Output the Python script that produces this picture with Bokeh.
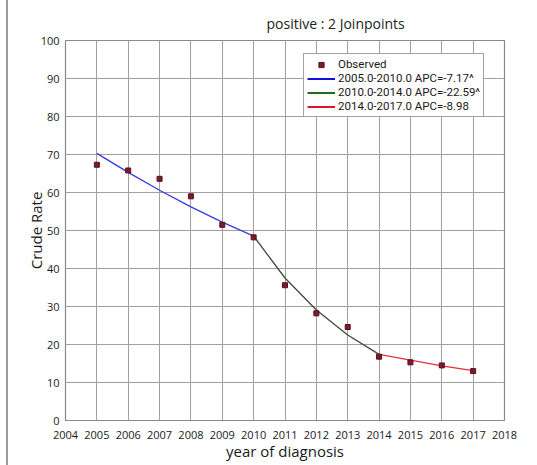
from bokeh.plotting import figure
from bokeh.models import Legend, LegendItem, Title, FixedTicker, Range1d
from bokeh.embed import file_html
from bokeh.resources import INLINE

years = [2005, 2006, 2007, 2008, 2009, 2010, 2011, 2012, 2013, 2014, 2015, 2016, 2017]
observed = [67.3, 65.8, 63.6, 59.0, 51.5, 48.2, 35.6, 28.2, 24.6, 16.8, 15.3, 14.5, 13.0]

seg1_years = [2005, 2006, 2007, 2008, 2009, 2010]
seg1_fit = [70.3, 65.3, 60.6, 56.2, 52.2, 48.5]
seg2_years = [2010, 2011, 2012, 2013, 2014]
seg2_fit = [48.5, 37.5, 29.1, 22.5, 17.4]
seg3_years = [2014, 2015, 2016, 2017]
seg3_fit = [17.4, 15.9, 14.4, 13.1]

labels = ["Observed",
          "2005.0-2010.0 APC=-7.17^",
          "2010.0-2014.0 APC=-22.59^",
          "2014.0-2017.0 APC=-8.98"]
x_ticks = list(range(2004, 2019))
y_ticks = list(range(0, 101, 10))

FONT = "Open Sans"

p = figure(width=529, height=465, output_backend="svg", toolbar_location=None,
           x_range=Range1d(2004, 2018), y_range=Range1d(0, 100),
           min_border_left=57, min_border_right=33, min_border_top=40, min_border_bottom=45)
p.styles = {"border-left": "2px solid #9a9a9a", "margin-left": "6px"}

p.add_layout(Title(text="positive : 2 Joinpoints", align="left", offset=201, standoff=15,
                   text_font=FONT, text_font_size="14px", text_font_style="normal",
                   text_color="#222222"), "above")

p.outline_line_color = "#888888"
p.outline_line_width = 1.2
p.xgrid.grid_line_color = "#a0a0a0"
p.ygrid.grid_line_color = "#a0a0a0"
p.xgrid.grid_line_width = 1
p.ygrid.grid_line_width = 1

for ax in (p.xaxis, p.yaxis):
    ax.axis_line_color = None
    ax.major_tick_line_color = None
    ax.minor_tick_line_color = None
    ax.major_label_text_font = FONT
    ax.major_label_text_font_size = "11px"
    ax.major_label_text_color = "#1a1a1a"
    ax.axis_label_text_font = FONT
    ax.axis_label_text_font_size = "15px"
    ax.axis_label_text_font_style = "normal"
    ax.axis_label_text_color = "#1a1a1a"

p.xaxis.ticker = FixedTicker(ticks=x_ticks)
p.yaxis.ticker = FixedTicker(ticks=y_ticks)
p.xaxis.axis_label = "year of diagnosis"
p.yaxis.axis_label = "Crude Rate"
p.xaxis.major_label_standoff = 4
p.yaxis.major_label_standoff = 0
p.xaxis.axis_label_standoff = -1
p.yaxis.axis_label_standoff = -8

r1 = p.line(seg1_years, seg1_fit, line_color="#3a3ae0", line_width=1.3)
r2 = p.line(seg2_years, seg2_fit, line_color="#3d4a3d", line_width=1.3)
r3 = p.line(seg3_years, seg3_fit, line_color="#e8303a", line_width=1.3)
r0 = p.scatter(years, observed, marker="square", size=5, fill_color="#7a1a2c", line_color="#5a1020")

# legend proxies (drawn outside the visible ranges)
px = [1990, 1991]
py = [-50, -50]
l1 = p.line(px, py, line_color="#1010e0", line_width=2)
l2 = p.line(px, py, line_color="#1a6e1a", line_width=2)
l3 = p.line(px, py, line_color="#e81030", line_width=2)

legend = Legend(items=[LegendItem(label=labels[0], renderers=[r0]),
                       LegendItem(label=labels[1], renderers=[l1]),
                       LegendItem(label=labels[2], renderers=[l2]),
                       LegendItem(label=labels[3], renderers=[l3])],
                location=(238, 303),
                label_text_font="Roboto", label_text_font_size="11.5px", label_text_color="#1a1a1a",
                label_height=13, glyph_height=13, glyph_width=28, label_standoff=3,
                spacing=0, padding=3, margin=0,
                border_line_color="#444444", border_line_width=1,
                background_fill_alpha=1)
p.add_layout(legend, "center")

open("out.html", "w").write(file_html(p, INLINE))
